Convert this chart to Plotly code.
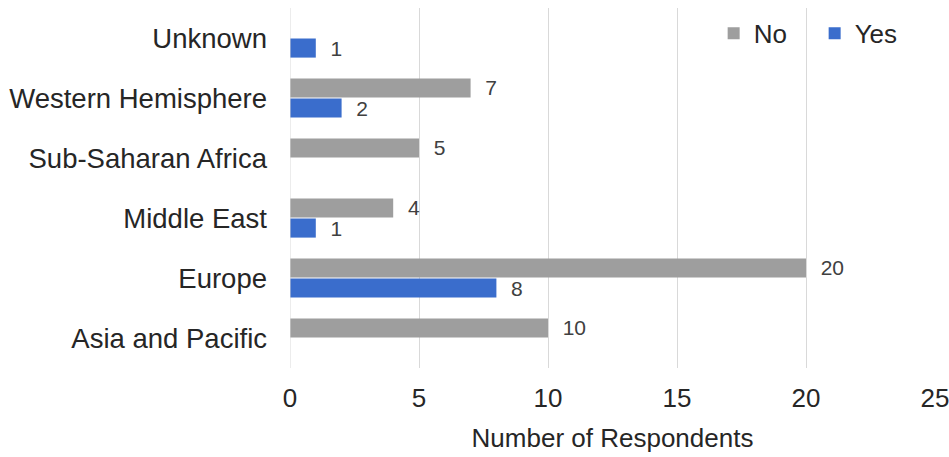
import plotly.graph_objects as go

categories = ["Asia and Pacific", "Europe", "Middle East", "Sub-Saharan Africa", "Western Hemisphere", "Unknown"]
no_values = [10, 20, 4, 5, 7, 0]
yes_values = [0, 8, 1, 0, 2, 1]
x_ticks = [0, 5, 10, 15, 20, 25]

FONT = "Liberation Sans, Arial, sans-serif"

def labels(vals):
    return ["  " + str(v) if v else "" for v in vals]

fig = go.Figure()
fig.add_trace(go.Bar(
    y=categories, x=yes_values, name="Yes", orientation="h",
    marker=dict(color="#3a6dcc", line=dict(width=0)),
    text=labels(yes_values), textposition="outside", cliponaxis=False,
    constraintext="none",
    textfont=dict(size=21, color="#404040", family=FONT),
))
fig.add_trace(go.Bar(
    y=categories, x=no_values, name="No", orientation="h",
    marker=dict(color="#9e9e9e", line=dict(width=0)),
    text=labels(no_values), textposition="outside", cliponaxis=False,
    constraintext="none",
    textfont=dict(size=21, color="#404040", family=FONT),
))

fig.update_layout(
    width=949, height=457,
    margin=dict(l=290, r=14, t=8, b=89, autoexpand=False),
    paper_bgcolor="white", plot_bgcolor="white",
    barmode="group", bargap=0.33, bargroupgap=0.05,
    font=dict(family=FONT, size=26, color="#262626"),
    showlegend=True,
    legend=dict(orientation="h", x=0.97, xanchor="right", y=0.995, yanchor="top",
                traceorder="reversed", font=dict(size=26, color="#262626"),
                bgcolor="rgba(0,0,0,0)", itemwidth=30,
                entrywidth=56, entrywidthmode="pixels"),
    xaxis=dict(range=[0, 25], tickvals=x_ticks, showgrid=True, gridcolor="#d9d9d9",
               gridwidth=1, zeroline=False, showline=False, ticks="",
               tickfont=dict(size=26), ticklabelstandoff=12, automargin=False,
               ticklabeloverflow="allow",
               title=dict(text="Number of Respondents", font=dict(size=26), standoff=16)),
    yaxis=dict(showgrid=False, zeroline=False, showline=False, ticks="",
               tickfont=dict(size=27.5), ticklabelstandoff=22, automargin=False),
)
fig.add_shape(type="line", xref="x", yref="paper", x0=0, x1=0, y0=0, y1=1,
              line=dict(color="#d9d9d9", width=1))

fig.write_html("out.html", config={"displayModeBar": False},
               post_script="document.body.style.margin='0';document.body.style.overflow='hidden';")
